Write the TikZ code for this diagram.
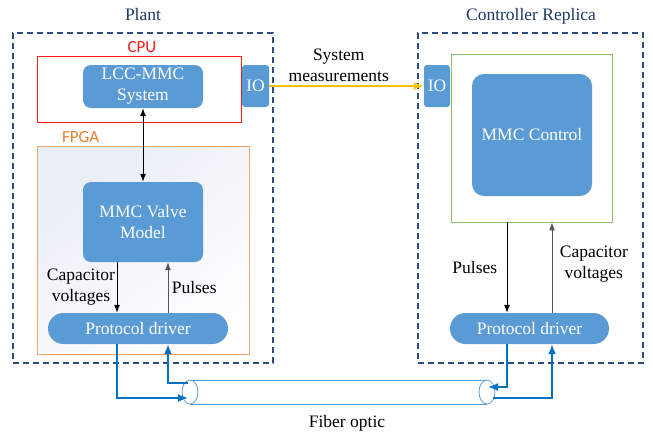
\documentclass[tikz,border=0pt]{standalone}
\usepackage{fontspec}
\setmainfont{Liberation Serif}
\newfontfamily\chipfont{Carlito}
\usetikzlibrary{positioning, arrows.meta}

\definecolor{boxblue}{HTML}{5B9BD5}
\definecolor{zonenavy}{HTML}{2F4A80}
\definecolor{titlenavy}{HTML}{1F3864}
\definecolor{cpured}{HTML}{FF1A1A}
\definecolor{fpgaorange}{HTML}{F4A46E}
\definecolor{fpgatext}{HTML}{ED7D31}
\definecolor{fpgafill}{HTML}{E8EDF6}
\definecolor{dspgreen}{HTML}{8CC06A}
\definecolor{signalyellow}{HTML}{FFC000}
\definecolor{fiberblue}{HTML}{0070C0}
\definecolor{upgrey}{HTML}{555555}

\begin{document}
\begin{tikzpicture}[
    x=1pt, y=-1pt,
    >={Latex[length=8pt,width=6pt]},
    font=\fontsize{17.5}{21}\selectfont,
    block/.style={
        rectangle,
        rounded corners=8pt,
        fill=boxblue,
        text=white,
        align=center,
        inner sep=2pt
    },
    iobox/.style={
        block,
        rounded corners=3pt,
        minimum width=27pt,
        minimum height=42pt,
        inner sep=0pt
    },
    pill/.style={
        block,
        rounded corners=15.5pt,
        minimum height=31pt
    },
    zone/.style={
        rectangle,
        draw=zonenavy,
        dash pattern=on 6pt off 4pt,
        line width=1.1pt
    },
    title/.style={text=titlenavy, anchor=base},
    chip/.style={font=\chipfont\fontsize{17}{21}\selectfont},
    arrow/.style={->, line width=1pt},
    signal/.style={-{Latex[length=10pt,width=8pt]}, line width=1.6pt, draw=signalyellow},
    fibre/.style={-{Latex[length=10pt,width=8pt]}, line width=1.8pt, draw=fiberblue},
    cable/.style={draw=boxblue, line width=0.8pt}
]
\useasboundingbox (0,0) rectangle (653,431);

% Plant
\node[zone, minimum width=260pt, minimum height=330pt] (plant) at (143,198) {};
\node[title] (plantname) at (143,20) {Plant};

% CPU
\node[draw=cpured, line width=0.8pt, minimum width=204pt, minimum height=66pt] (cpu) at (139,89) {};
\node[chip, text=cpured, above=-1pt of cpu, xshift=3pt] (cpuname) {CPU};
\node[block, minimum width=120pt, minimum height=43pt] (lcc) at (143,86.5) {LCC-MMC\\System};
\node[iobox] (ioplant) at (255.5,86) {IO};

% FPGA
\node[draw=fpgaorange, top color=fpgafill, bottom color=white, shading angle=35,
      line width=0.9pt, minimum width=212pt, minimum height=208pt] (fpga) at (143,250) {};
\node[chip, text=fpgatext, above right=-1pt and 22pt of fpga.north west] (fpganame) {FPGA};
\node[block, minimum width=120pt, minimum height=80pt] (valve) at (143,222) {MMC Valve\\Model};
\node[pill, minimum width=180pt] (pdplant) at (138,328.5) {Protocol driver};

% Controller replica
\node[zone, minimum width=225pt, minimum height=330pt] (ctrl) at (530.5,198) {};
\node[title] (ctrlname) at (531,20) {Controller Replica};
\node[draw=dspgreen, line width=0.8pt, minimum width=161pt, minimum height=168pt] (dsp) at (531.5,138) {};
\node[iobox, minimum width=26pt] (ioctrl) at (437,86) {IO};
\node[block, rounded corners=12pt, minimum width=120pt, minimum height=122pt] (mmcctrl) at (532,135) {MMC Control};
\node[pill, minimum width=159pt] (pdctrl) at (529.5,328.5) {Protocol driver};

% Fiber optic
\coordinate (fiberL) at (190,392);
\coordinate (fiberR) at (487,392);
\draw[cable] ([yshift=12pt]fiberL) -- ([yshift=12pt]fiberR);
\draw[cable] ([yshift=-12pt]fiberL) -- ([yshift=-12pt]fiberR);
\draw[cable, fill=white] (fiberL) ellipse [x radius=8, y radius=12];
\draw[cable] (fiberR) ellipse [x radius=8, y radius=12];
\node[anchor=base] (fiberlabel) at (347,427) {Fiber optic};

% Arrows
\draw[arrow, <->] (lcc) -- (valve);
\draw[arrow] ([xshift=-26pt]valve.south)
    -- node[left, inner sep=1.5pt, align=center] {Capacitor\\voltages}
    ([xshift=-26pt]valve.south |- pdplant.north);
\draw[arrow, draw=upgrey] ([xshift=25pt]valve.south |- pdplant.north)
    -- node[right] {Pulses} ([xshift=25pt]valve.south);
\draw[arrow] ([xshift=-24.5pt]dsp.south)
    -- node[left=6pt] {Pulses} ([xshift=-24.5pt]dsp.south |- pdctrl.north);
\draw[arrow, draw=upgrey] ([xshift=20.5pt]dsp.south |- pdctrl.north)
    -- node[right=4pt, align=center, yshift=4pt] {Capacitor\\voltages} ([xshift=20.5pt]dsp.south);
\draw[signal] (ioplant) -- node[above, pos=0.45, align=center] {System\\measurements} (ioctrl);

% Fiber links
\draw[fibre] ([xshift=-21pt]pdplant.south) |- ([xshift=-2pt, yshift=-6pt]fiberL);
\draw[fibre] ([xshift=-2pt, yshift=9pt]fiberL) -| ([xshift=30pt]pdplant.south);
\draw[fibre] ([xshift=-22.5pt]pdctrl.south) |- ([xshift=1pt, yshift=5pt]fiberR);
\draw[fibre] ([xshift=6pt, yshift=-6pt]fiberR) -| ([xshift=22.5pt]pdctrl.south);

\end{tikzpicture}
\end{document}
